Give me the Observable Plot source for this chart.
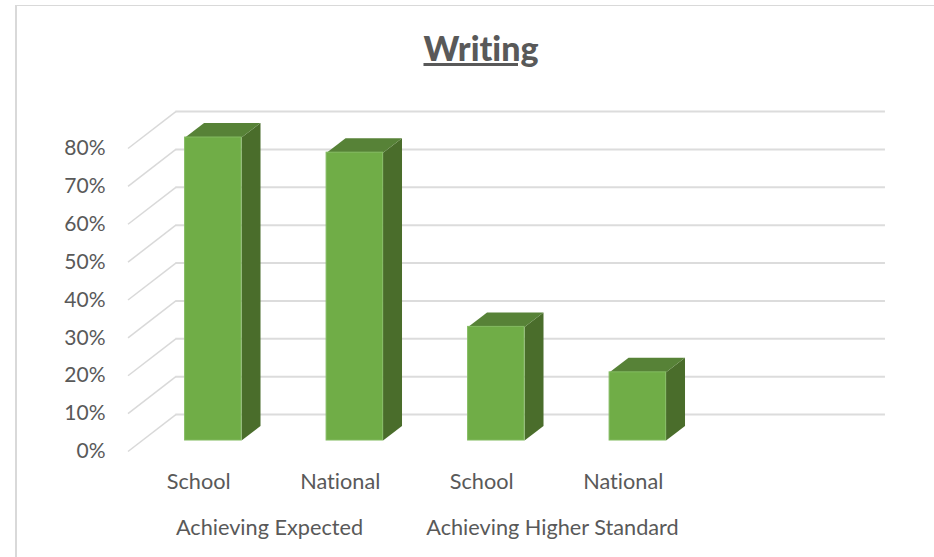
<!DOCTYPE html>
<html>
<head>
<meta charset="utf-8">
<script src="https://cdn.jsdelivr.net/npm/d3@7"></script>
<script src="https://cdn.jsdelivr.net/npm/@observablehq/plot@0.6"></script>
<style>
  html, body { margin: 0; padding: 0; background: #fff; width: 934px; height: 557px; overflow: hidden; font-variant-ligatures: none; }
  #frame { position: absolute; left: 15px; top: 5px; right: 0; bottom: 0; border-left: 2px solid #d9d9d9; border-top: 1px solid #d9d9d9; }
  #chart { position: absolute; left: 0; top: 0; width: 934px; height: 557px; }
  #chart figure { margin: 0; position: relative; }
  #chart h2 { position: absolute; left: 281px; width: 400px; top: 26px; margin: 0; text-align: center;
    font: 900 34px/44px Lato, sans-serif; font-variant-ligatures: none; color: #595959; text-decoration: underline; }
  #chart svg { display: block; background: transparent; font-variant-ligatures: none; }
</style>
</head>
<body>
<div id="frame"></div>
<div id="chart"></div>
<script>
const chartTitle = "Writing";
const barLabels = ["School", "National", "School", "National"];
const barValues = [80, 76, 30, 18];
const groupLabels = ["Achieving Expected", "Achieving Higher Standard"];
const groupCentres = [1, 3];
const yTicks = [0, 10, 20, 30, 40, 50, 60, 70, 80];
const slotCount = 5;

// Depth of the 3D box, in data units of the two scales
const wallDX = 0.338, wallDY = 9.76;   // floor depth, front plane to back wall
const wallRight = 5.353;               // right end of the back wall
const barDX = 0.134, barDY = 3.83;     // depth of one bar
const barInsetX = 0.103, barInsetY = 2.9; // bar front face behind the front plane
const barWidth = 0.399;

const bars = barValues.map((v, i) => {
  const cx = i + 0.5 + barInsetX;
  return {
    i, v, label: barLabels[i], centre: i + 0.5,
    x1: cx - barWidth / 2, x2: cx + barWidth / 2,
    y1: barInsetY, y2: barInsetY + v
  };
});
const topFace = bars.flatMap(b => [
  {z: b.i, x: b.x1, y: b.y2},
  {z: b.i, x: b.x2, y: b.y2},
  {z: b.i, x: b.x2 + barDX, y: b.y2 + barDY},
  {z: b.i, x: b.x1 + barDX, y: b.y2 + barDY}
]);
const sideFace = bars.flatMap(b => [
  {z: b.i, x: b.x2, y: b.y1},
  {z: b.i, x: b.x2 + barDX, y: b.y1 + barDY},
  {z: b.i, x: b.x2 + barDX, y: b.y2 + barDY},
  {z: b.i, x: b.x2, y: b.y2}
]);

const fontFamily = "Lato, sans-serif";
const plot = Plot.plot({
  title: chartTitle,
  width: 934, height: 557,
  marginLeft: 127, marginRight: 97, marginTop: 148, marginBottom: 106,
  style: {fontFamily, background: "transparent"},
  x: {domain: [0, slotCount], range: [127.5, 835], axis: null},
  y: {domain: [0, 80], range: [451, 148]},
  marks: [
    // back wall gridlines
    Plot.ruleY(yTicks, {
      x1: wallDX, x2: wallRight, y: d => d + wallDY,
      stroke: "#dcdcdc", strokeWidth: 2
    }),
    // side wall gridlines
    Plot.link(yTicks, {
      x1: 0, y1: d => d, x2: wallDX, y2: d => d + wallDY,
      stroke: "#d9d9d9", strokeWidth: 1.5
    }),
    // bars
    Plot.line(sideFace, {x: "x", y: "y", z: "z", fill: "#4a6d2b", stroke: "none", curve: "linear-closed"}),
    Plot.line(topFace, {x: "x", y: "y", z: "z", fill: "#578237", stroke: "none", curve: "linear-closed"}),
    Plot.rect(bars, {x1: "x1", x2: "x2", y1: "y1", y2: "y2", fill: "#70ad47", stroke: "#84bb62", strokeWidth: 1}),
    // axes and labels
    Plot.axisY({
      ticks: yTicks, tickSize: 0, tickPadding: 22, label: null,
      tickFormat: d => d + "%", fontSize: 21, fill: "#595959"
    }),
    Plot.text(bars, {
      x: "centre", y: 0, text: "label", dy: 31,
      fontSize: 21.7, fill: "#595959"
    }),
    Plot.text(groupLabels, {
      x: (d, i) => groupCentres[i], y: 0, text: d => d, dy: 77,
      fontSize: 21.7, fill: "#595959"
    })
  ]
});
document.getElementById("chart").append(plot);
</script>
</body>
</html>
